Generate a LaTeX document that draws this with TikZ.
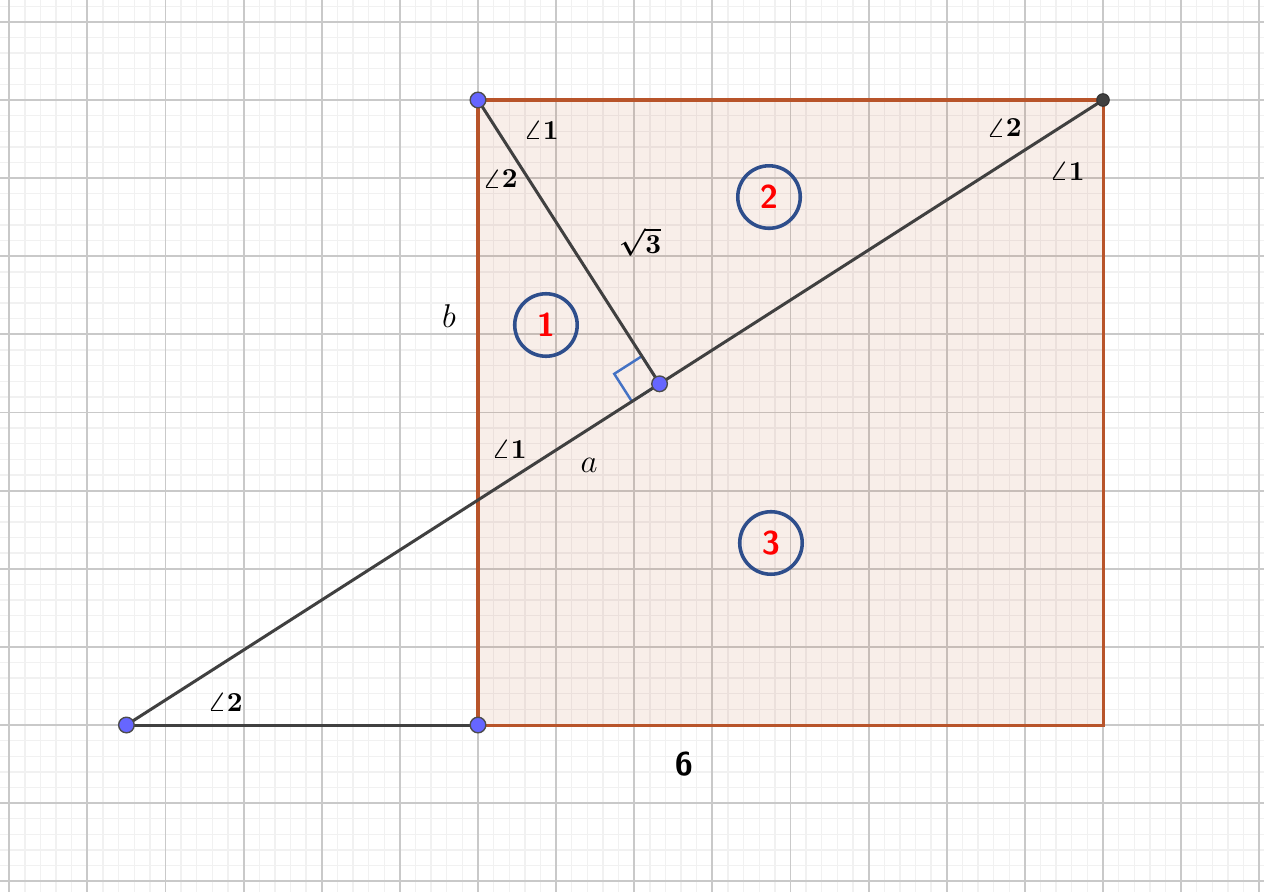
\documentclass[tikz,border=0pt]{standalone}
\usepackage{tikz}
\usepackage{amsmath}
\usetikzlibrary{calc}
\definecolor{sqedge}{RGB}{184,84,42}
\definecolor{ptblue}{RGB}{102,102,255}
\definecolor{circblue}{RGB}{46,78,140}
\definecolor{segcol}{RGB}{64,64,64}
\definecolor{markblue}{RGB}{68,114,196}

\tikzset{
  region/.style={circle, draw=circblue, line width=1.3pt, minimum size=0.8cm,
    inner sep=0pt, text=red, font=\sffamily\bfseries\large},
  seg/.style={segcol, line width=1.1pt},
  ptdot/.style={fill=ptblue, draw=black!70, line width=0.5pt},
  anglabel/.style={font=\normalsize\boldmath}
}

\begin{document}
\begin{tikzpicture}
        \useasboundingbox (-6.1184,-2.1248) rectangle (10.0608,9.28);
        % grid
        \draw[gray!11, line width=0.5pt, step=0.2] (-6.2,-2.2) grid (10.2,9.4);
        \draw[gray!42, line width=0.7pt, step=1] (-6.2,-2.2) grid (10.2,9.4);

        \coordinate (B) at (0,0);
        \coordinate (A) at (0,8);
        \coordinate (C) at (8,8);
        \coordinate (D) at (8,0);
        \coordinate (L) at (-4.5,0);
        \coordinate (F) at ($(L)!(A)!(C)$);

        % square
        \filldraw[draw=sqedge, fill=sqedge, fill opacity=0.1, line width=1.1pt] (B) rectangle (C);

        % right angle mark
        \coordinate (P1) at ($(F)!0.42cm!(L)$);
        \coordinate (P3) at ($(F)!0.42cm!(A)$);
        \draw[markblue, line width=0.9pt] (F) -- (P1) -- ($(P1)+(P3)-(F)$) -- (P3) -- cycle;

        \draw[seg] (L) -- (C);
        \draw[seg] (A) -- (F);
        \draw[seg] (L) -- (B);

        \filldraw[ptdot] (A) circle (0.1);
        \filldraw[ptdot] (B) circle (0.1);
        \filldraw[ptdot] (L) circle (0.1);
        \filldraw[ptdot] (F) circle (0.1);
        \filldraw[fill=black!75, draw=black!80] (C) circle (0.08);

        % labels
        \node[anglabel] (aA1) at (0.806, 7.616) {$\angle\mathbf{1}$};
        \node[anglabel] (aA2) at (0.282, 6.989) {$\angle\mathbf{2}$};
        \node[anglabel] (aC2) at (6.733, 7.642) {$\angle\mathbf{2}$};
        \node[anglabel] (aC1) at (7.539, 7.091) {$\angle\mathbf{1}$};
        \node[anglabel] (aM1) at (0.397, 3.533) {$\angle\mathbf{1}$};
        \node[anglabel] (aL2) at (-3.238, 0.294) {$\angle\mathbf{2}$};
        \node (root3) at (2.074, 6.182) {$\boldsymbol{\sqrt{3}}$};
        \node (lb) at (-0.371, 5.235) {\large $b$};
        \node (la) at (1.421, 3.328) {\large $a$};
        \node[font=\sffamily\bfseries\large] (six) at (2.637, -0.499) {6};

        \node[region] (r1) at (0.870, 5.120) {1};
        \node[region] (r2) at (3.725, 6.758) {2};
        \node[region] (r3) at (3.750, 2.330) {3};
      \end{tikzpicture}
\end{document}
